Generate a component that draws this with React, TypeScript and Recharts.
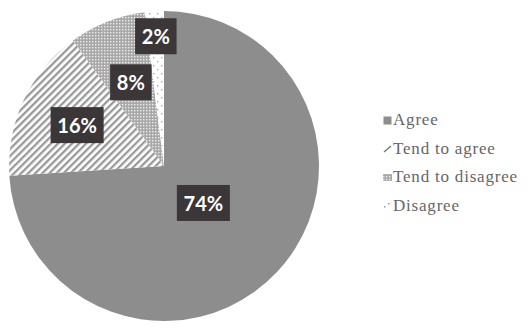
import React from 'react';
import { PieChart, Pie, Cell, Legend } from 'recharts';

const categories = ['Agree', 'Tend to agree', 'Tend to disagree', 'Disagree'];
const values = [74, 16, 8, 2];

const data = categories.map((name, i) => ({ name, value: values[i] }));

const FILLS = ['#8d8d8d', 'url(#stripes)', 'url(#dots)', 'url(#sparse)'];
const LABEL_RADIUS = [54, 96, 90, 130];
const RADIAN = Math.PI / 180;

const renderLabel = (props: any) => {
  const { cx, cy, midAngle, index, value } = props;
  const r = LABEL_RADIUS[index];
  const x = cx + r * Math.cos(-midAngle * RADIAN);
  const y = cy + r * Math.sin(-midAngle * RADIAN);
  const text = `${value}%`;
  const digits = String(value).length;
  const w = 14 + 11.5 * digits + 16;
  const h = 36;
  return (
    <g key={`lbl-${index}`}>
      <rect x={x - w / 2} y={y - h / 2} width={w} height={h} fill="#3b3637" />
      <text
        x={x}
        y={y}
        textAnchor="middle"
        dominantBaseline="central"
        fill="#ffffff"
        fontFamily="Lato, 'Open Sans', sans-serif"
        fontWeight={700}
        fontSize={20}
      >
        {text}
      </text>
    </g>
  );
};

const LegendIcon = ({ index }: { index: number }) => {
  return (
    <svg width={9} height={9} style={{ display: 'block' }}>
      {index === 0 && <rect x={0.5} y={0.5} width={8} height={8} fill="#8d8d8d" />}
      {index === 1 && <line x1={1} y1={8} x2={8} y2={2} stroke="#777" strokeWidth={1.4} />}
      {index === 2 && <rect x={0} y={1} width={9} height={7} fill="url(#dots)" />}
      {index === 3 && (
        <g fill="#999">
          <rect x={1} y={5} width={1.5} height={1.5} />
          <rect x={5} y={2} width={1.5} height={1.5} />
        </g>
      )}
    </svg>
  );
};

const renderLegend = () => (
  <div style={{ fontFamily: "'Liberation Serif', 'DejaVu Serif', serif" }}>
    {categories.map((c, i) => (
      <div
        key={c}
        style={{ display: 'flex', alignItems: 'center', height: 28.5, color: '#666', fontSize: 17, letterSpacing: 0.8, whiteSpace: 'nowrap' }}
      >
        <LegendIcon index={i} />
        <span style={{ marginLeft: 1 }}>{c}</span>
      </div>
    ))}
  </div>
);

export default function App() {
  return (
    <div style={{ width: 520, height: 321 }}>
      <PieChart width={520} height={321} margin={{ top: 0, right: 0, bottom: 0, left: 0 }}>
        <defs>
          <pattern id="stripes" patternUnits="userSpaceOnUse" width={5} height={5} patternTransform="rotate(45)">
            <rect x={0} y={0} width={5} height={5} fill="#ffffff" />
            <rect x={0} y={0} width={2.3} height={5} fill="#999999" />
          </pattern>
          <pattern id="dots" patternUnits="userSpaceOnUse" width={3} height={3}>
            <rect x={0} y={0} width={3} height={3} fill="#a8a8a8" />
            <rect x={0} y={0} width={1.4} height={1.4} fill="#ececec" />
          </pattern>
          <pattern id="sparse" patternUnits="userSpaceOnUse" width={8} height={8}>
            <rect x={0} y={0} width={8} height={8} fill="#ffffff" />
            <rect x={1} y={1} width={1.4} height={1.4} fill="#aaaaaa" />
            <rect x={5} y={5} width={1.4} height={1.4} fill="#aaaaaa" />
          </pattern>
        </defs>
        <Pie
          data={data}
          dataKey="value"
          nameKey="name"
          cx={156}
          cy={158}
          outerRadius={155}
          startAngle={90}
          endAngle={-270}
          stroke="none"
          labelLine={false}
          label={renderLabel}
          isAnimationActive={false}
        >
          {data.map((d, i) => (
            <Cell key={d.name} fill={FILLS[i]} stroke="none" />
          ))}
        </Pie>
        <Legend
          content={renderLegend}
          layout="vertical"
          wrapperStyle={{ position: 'absolute', left: 375, top: 98, width: 150, margin: 0 }}
        />
      </PieChart>
    </div>
  );
}
